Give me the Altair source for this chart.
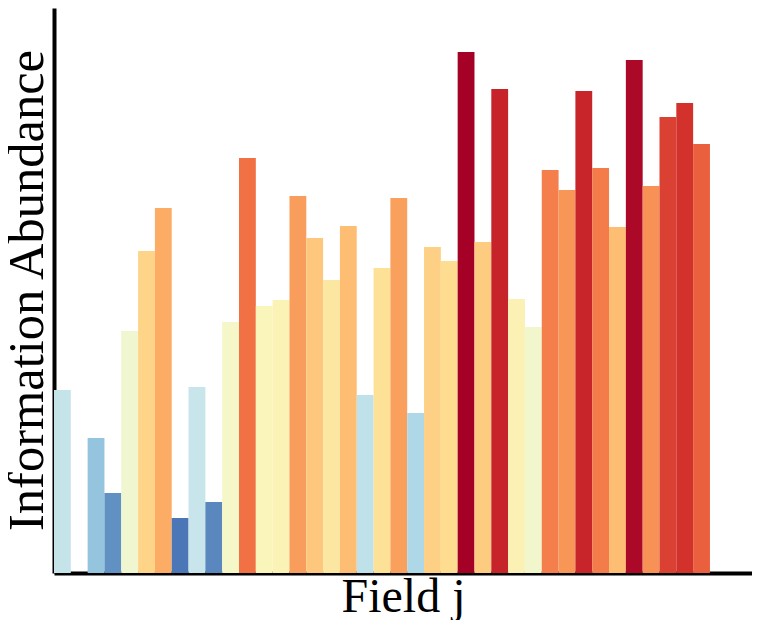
import altair as alt
import pandas as pd

# Bar heights (arbitrary units), one per field slot
values = [183, 0, 135, 80, 242, 322, 365, 55, 186, 71,
          251, 415, 267, 273, 377, 335, 293, 347, 178, 305,
          375, 160, 326, 312, 521, 331, 484, 274, 246, 403,
          383, 482, 405, 346, 513, 387, 456, 470, 429]
fields = list(range(len(values)))

df = pd.DataFrame({"field": fields, "value": values})

FONT = "Liberation Serif"

chart = (
    alt.Chart(df)
    .transform_calculate(end="datum.field + 1", base="0")
    .mark_bar(stroke=None, opacity=1)
    .encode(
        x=alt.X(
            "field:Q",
            scale=alt.Scale(domain=[0, 41.5], nice=False, zero=False),
            axis=alt.Axis(
                title="Field j", labels=False, ticks=False, grid=False,
                domainColor="black", domainWidth=4,
                titleFont=FONT, titleFontSize=48, titleFontWeight="normal",
                titleColor="black", titleBaseline="alphabetic", titleY=38,
            ),
        ),
        x2="end:Q",
        y=alt.Y(
            "value:Q",
            scale=alt.Scale(domain=[0, 565], nice=False),
            axis=alt.Axis(
                title="Information Abundance", labels=False, ticks=False, grid=False,
                domainColor="black", domainWidth=4,
                titleFont=FONT, titleFontSize=50.5, titleFontWeight="normal",
                titleColor="black", titleAngle=270, titleAlign="center",
                titleBaseline="alphabetic", titleX=-12, titleY=282,
            ),
        ),
        y2="base:Q",
        color=alt.Color(
            "value:Q",
            scale=alt.Scale(scheme="redyellowblue", reverse=True, domain=[0, 521]),
            legend=None,
        ),
    )
    .properties(
        width=698, height=565,
        autosize=alt.AutoSizeParams(type="none"),
        padding={"left": 46, "top": 0, "right": 0, "bottom": 47},
    )
    .configure_view(stroke=None)
)

chart.save("out.html", embed_options={"renderer": "svg", "actions": False})
